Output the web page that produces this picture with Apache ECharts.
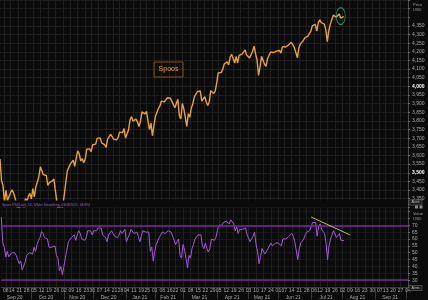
<!DOCTYPE html>
<html><head><meta charset="utf-8">
<script src="https://cdn.jsdelivr.net/npm/echarts@6/dist/echarts.min.js"></script>
<style>html,body{margin:0;padding:0;background:#0b0b0b}#c{width:428px;height:300px}</style>
</head><body><div id="c"></div>
<script>
// ---------- axis / category data ----------
const startDate = '2020-09-02';
const endDate = '2021-10-04';
const holidays = ['2020-09-07','2020-11-26','2020-12-25','2021-01-01','2021-01-18','2021-02-15','2021-04-02','2021-05-31','2021-07-05','2021-09-06'];
const monthNames = ['Jan','Feb','Mar','Apr','May','Jun','Jul','Aug','Sep','Oct','Nov','Dec'];
const priceTicks = [3350,3400,3450,3500,3550,3600,3650,3700,3750,3800,3850,3900,3950,4000,4050,4100,4150,4200,4250,4300,4350];
const rsiTicks = [30,35,40,45,50,55,60,65,70];

// ---------- Spoos daily closes ----------
const priceSep20 = [3580,3455,3427,3331,3398,3339,3341,3383,3401,3385,3357,3319,3281,3315,3237,3246,3298,3351,3335,3363];
const priceOct20 = [3381,3348,3408,3361,3419,3446,3477,3534,3512,3489,3483,3484,3427,3443,3436,3453,3465,3401,3391,3271,3310,3270];
const priceNov20 = [3310,3370,3443,3510,3509,3550,3545,3573,3537,3585,3627,3610,3568,3582,3558,3578,3636,3630,3638,3622];
const priceDec20 = [3662,3669,3666,3699,3692,3702,3673,3668,3663,3647,3695,3702,3722,3709,3695,3687,3690,3703,3735,3727,3732,3756];
const priceJan21 = [3701,3726,3748,3804,3825,3799,3801,3810,3795,3768,3799,3852,3853,3841,3855,3849,3750,3787,3714];
const priceFeb21 = [3774,3826,3830,3872,3887,3915,3911,3910,3916,3934,3933,3931,3913,3906,3876,3881,3925,3829,3811];
const priceMar21 = [3901,3870,3820,3768,3842,3821,3875,3898,3939,3943,3969,3962,3974,3915,3913,3940,3911,3889,3910,3975,3971,3959,3973];
const priceApr21 = [4020,4078,4074,4080,4097,4129,4128,4142,4125,4170,4185,4163,4135,4173,4135,4180,4188,4187,4183,4211,4181];
const priceMay21 = [4192,4165,4168,4202,4233,4189,4152,4063,4113,4174,4163,4128,4116,4160,4156,4198,4188,4196,4201,4204];
const priceJun21 = [4202,4208,4192,4230,4227,4228,4220,4239,4247,4255,4247,4224,4222,4166,4224,4246,4242,4266,4281,4291,4291,4298];
const priceJul21 = [4320,4352,4343,4358,4320,4370,4385,4369,4375,4361,4327,4259,4323,4359,4368,4412,4422,4401,4400,4419,4395];
const priceAug21 = [4387,4404.5];

// ---------- RSI (14, Wilder) daily values ----------
const rsiSep20 = [76,57,54,47,51,47,48,50,51,50,48,45,42,44,37.5,38,43,48,47,50];
const rsiOct20 = [51,49,54,51,56,59,61,65.5,64,61,60,60,54,55,54,55,55,48,46,37,40,34];
const rsiNov20 = [40,46,52,58,58,61,60,63,59,63,66,64,60,61,59,61,66,65,66,63];
const rsiDec20 = [66,67,66,68,67,68,63,62,61,58,63,64,66,64,62,61,61,63,66,64,65,67];
const rsiJan21 = [58,61,63,67,68,64,64,65,62,58,62,66,66,65,66,65,51,54,44];
const rsiFeb21 = [51,56,57,61,62,65,64,64,64,66,65,65,62,61,56,57,60,48,46];
const rsiMar21 = [56,52,46,39,48,46,53,56,60,60,63,62,63,55,53,57,53,50.5,53,60,60,59,61];
const rsiApr21 = [66,70,70,70,72,73,73,74,71,74,75,71,66,69,64,67,68,67,66,68,63];
const rsiMay21 = [64,58,59,62,65,56,51,42,47,53,52,49,48,53,52,57,55,56,57,57];
const rsiJun21 = [57,58,55,60,60,60,59,62,63,64,62,58,57,45,53,57,56,60,63,65,65,66];
const rsiJul21 = [69,72,71,72,62,69,71,67,68,64,57,45,55,60,61,66,67,61,61,64,59];
const rsiAug21 = [58,58.894];

// annotations (data coordinates)
const rsiTrend = [['2021-07-01',76],['2021-08-09',63]];
const circleMark = [['2021-07-30',4407]];
const rsiBands = [70,30];

// ---------- build ----------
function buildTradingDays(){
  const out=[]; let d=new Date(startDate+'T00:00:00Z'); const end=new Date(endDate+'T00:00:00Z');
  while(d<=end){ const w=d.getUTCDay(); const s=d.toISOString().slice(0,10);
    if(w!==0&&w!==6&&holidays.indexOf(s)<0) out.push(s);
    d=new Date(d.getTime()+86400000);}
  return out;
}
const categories = buildTradingDays();
const dows = categories.map(s=>new Date(s+'T00:00:00Z').getUTCDay());
const weekStart = categories.map((s,i)=>i>0 && dows[i]<dows[i-1]);
const monthStart = categories.map((s,i)=>i>0 && s.slice(0,7)!==categories[i-1].slice(0,7));
const monthMid = categories.map(()=>false);
(function(){ let a=0; for(let i=1;i<=categories.length;i++){ if(i===categories.length||categories[i].slice(0,7)!==categories[a].slice(0,7)){ if(i-a>=10) monthMid[Math.floor((a+i-1)/2)]=true; a=i; } } })();

const price = [].concat(priceSep20,priceOct20,priceNov20,priceDec20,priceJan21,priceFeb21,priceMar21,priceApr21,priceMay21,priceJun21,priceJul21,priceAug21);
const rsi = [].concat(rsiSep20,rsiOct20,rsiNov20,rsiDec20,rsiJan21,rsiFeb21,rsiMar21,rsiApr21,rsiMay21,rsiJun21,rsiJul21,rsiAug21);
const lastPrice = price[price.length-1];
const lastRsi = rsi[rsi.length-1];

function comma(v, dec){ const p=v.toFixed(dec).split('.'); p[0]=p[0].replace(/\B(?=(\d{3})+(?!\d))/g,','); return p.join('.'); }

const FONT = 'Liberation Sans, Arial, sans-serif';
const gridCol = '#202020';
const labCol = '#a8a8a8';

const chart = echarts.init(document.getElementById('c'), null, {renderer:'canvas'});
chart.setOption({
  animation:false,
  backgroundColor:'#0b0b0b',
  textStyle:{fontFamily:FONT},
  grid:[
    {left:-1.5, right:20, top:-0.7, height:208},
    {left:-1.5, right:20, top:204.7, height:84}
  ],
  xAxis:[
    {gridIndex:0, type:'category', data:categories, boundaryGap:false,
     axisLine:{show:false}, axisTick:{show:false}, axisLabel:{show:false},
     splitLine:{show:true, interval:(i)=>weekStart[i], lineStyle:{color:gridCol, width:1}}},
    {gridIndex:1, type:'category', data:categories, boundaryGap:false,
     axisLine:{show:true, lineStyle:{color:'#3a3a3a'}},
     axisTick:{show:true, interval:(i)=>monthStart[i], length:12, lineStyle:{color:'#3a3a3a'}},
     axisLabel:{show:true, interval:(i)=>weekStart[i], formatter:(v)=>v.slice(8,10), fontSize:5, color:labCol, margin:1.5, fontFamily:FONT},
     splitLine:{show:true, interval:(i)=>weekStart[i], lineStyle:{color:gridCol, width:1}}},
    {gridIndex:1, type:'category', data:categories, boundaryGap:false, position:'bottom', offset:6.5,
     axisLine:{show:false}, axisTick:{show:false},
     axisLabel:{show:true, interval:(i)=>monthMid[i], formatter:(v)=>monthNames[+v.slice(5,7)-1]+' '+v.slice(2,4), fontSize:5, color:labCol, margin:1.5, fontFamily:FONT},
     splitLine:{show:false}}
  ],
  yAxis:[
    {gridIndex:0, type:'value', position:'right', min:3300, max:4500, interval:50,
     axisLine:{show:true, lineStyle:{color:'#4a4a4a'}},
     axisTick:{show:true, length:2, lineStyle:{color:'#6a6a6a'}},
     axisLabel:{fontSize:5, color:labCol, margin:4, fontFamily:FONT,
       formatter:(v)=>{ if(priceTicks.indexOf(v)<0) return ''; const s=comma(v,0); return v%500===0?'{b|'+s+'}':s; },
       rich:{b:{fontSize:5, fontWeight:'bold', color:'#ffffff', fontFamily:FONT}}},
     splitLine:{show:true, lineStyle:{color:gridCol, width:1}}},
    {gridIndex:1, type:'value', position:'right', min:25, max:85, interval:5,
     axisLine:{show:true, lineStyle:{color:'#4a4a4a'}},
     axisTick:{show:true, length:2, lineStyle:{color:'#6a6a6a'}},
     axisLabel:{fontSize:5, color:labCol, margin:4, fontFamily:FONT,
       formatter:(v)=> rsiTicks.indexOf(v)<0 ? '' : String(v)},
     splitLine:{show:true, lineStyle:{color:'#181818', width:1}}}
  ],
  series:[
    {type:'line', name:'Spoos', xAxisIndex:0, yAxisIndex:0, data:price, showSymbol:false, symbol:'none',
     lineStyle:{color:'#eba234', width:1.4}, z:3,
     markLine:{silent:true, symbol:['none','none'], animation:false,
       data:[{yAxis:lastPrice, lineStyle:{opacity:0},
         label:{show:true, position:'end', distance:2, formatter:()=>comma(lastPrice,2), fontSize:5, color:'#000',
           backgroundColor:'#f0a232', padding:[1.5,3,1,2], fontFamily:FONT}}]}},
    {type:'scatter', xAxisIndex:0, yAxisIndex:0, data:circleMark, symbol:'circle', symbolSize:[9,17],
     itemStyle:{color:'rgba(0,0,0,0)', borderColor:'#3daa4a', borderWidth:1}, z:4, silent:true},
    {type:'line', name:'RSI', xAxisIndex:1, yAxisIndex:1, data:rsi, showSymbol:false, symbol:'none',
     lineStyle:{color:'#a45ad9', width:1}, z:3,
     markLine:{silent:true, symbol:['none','none'], animation:false,
       data:[
         {yAxis:rsiBands[0], lineStyle:{color:'#7a2a98', width:1.6, type:'solid'}, label:{show:false}},
         {yAxis:rsiBands[1], lineStyle:{color:'#7a2a98', width:1.6, type:'solid'}, label:{show:false}},
         [{coord:rsiTrend[0], lineStyle:{color:'#c9b56c', width:1, type:'solid'}, label:{show:false}},{coord:rsiTrend[1]}],
         {yAxis:lastRsi, lineStyle:{opacity:0},
          label:{show:true, position:'end', distance:2, formatter:()=>lastRsi.toFixed(3), fontSize:5, color:'#f4e0ff',
            backgroundColor:'#b22fd2', padding:[1.5,3,1,2], fontFamily:FONT}}
       ]}}
  ],
  graphic:[
    {type:'rect', shape:{x:0, y:200.5, width:408, height:7}, style:{fill:'#0b0b0b'}, z:50, silent:true},
    {type:'text', x:2, y:203.6, style:{text:'Spoos RSI(Last), 14, Wilder Smoothing, 03/08/2021, '+lastRsi.toFixed(3), fontSize:3.3, fill:'#a45ad9', fontFamily:FONT}, z:60},
    {type:'rect', shape:{x:154, y:62, width:29, height:15}, style:{fill:'rgba(0,0,0,0)', stroke:'#7a5418', lineWidth:1}, z:60},
    {type:'text', x:168.5, y:69.5, style:{text:'Spoos', fontSize:7, fill:'#f0a232', align:'center', verticalAlign:'middle', fontFamily:FONT}, z:60},
    {type:'text', x:413, y:2, style:{text:'Price\nUSD', fontSize:4, lineHeight:5, fill:'#a0a0a0', fontFamily:FONT}, z:60},
    {type:'text', x:413, y:211, style:{text:'Value\nUSD', fontSize:4, lineHeight:5, fill:'#a0a0a0', fontFamily:FONT}, z:60},
    {type:'rect', shape:{x:409, y:200, width:13, height:5}, style:{fill:'#1a1a1a', stroke:'#6a6a6a', lineWidth:0.6}, z:60},
    {type:'text', x:415.5, y:202.6, style:{text:'Alerts', fontSize:3.2, fill:'#c0c0c0', align:'center', verticalAlign:'middle', fontFamily:FONT}, z:61},
    {type:'rect', shape:{x:415, y:205.5, width:3, height:3}, style:{fill:'#8a8a8a'}, z:60},
    {type:'rect', shape:{x:419.5, y:205.5, width:3, height:3}, style:{fill:'#8a8a8a'}, z:60},
    {type:'rect', shape:{x:409, y:285.5, width:13, height:5}, style:{fill:'#1a1a1a', stroke:'#6a6a6a', lineWidth:0.6}, z:60},
    {type:'text', x:415.5, y:288.1, style:{text:'Alerts', fontSize:3.2, fill:'#c0c0c0', align:'center', verticalAlign:'middle', fontFamily:FONT}, z:61}
  ]
});
</script>
</body></html>
